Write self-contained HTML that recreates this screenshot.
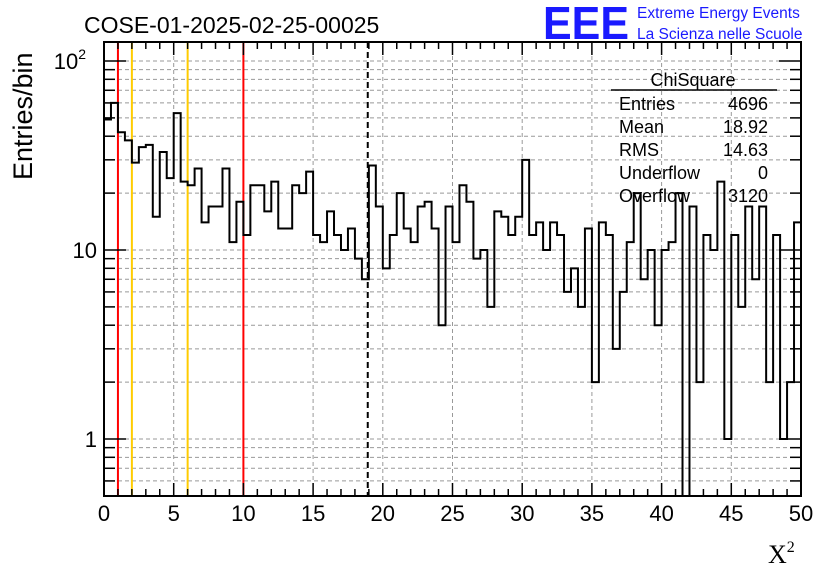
<!DOCTYPE html>
<html><head><meta charset="utf-8">
<style>
html,body{margin:0;padding:0;background:#fff;}
svg{display:block;font-family:"Liberation Sans",sans-serif;}
</style></head>
<body>
<svg id="chart" width="836" height="572" viewBox="0 0 836 572" xmlns="http://www.w3.org/2000/svg">
<rect width="836" height="572" fill="#fff"/>
<text x="84" y="33" font-size="23">COSE-01-2025-02-25-00025</text>
<text x="543" y="39" font-size="46" font-weight="bold" fill="#1a1aff" textLength="86" lengthAdjust="spacingAndGlyphs">EEE</text>
<text x="637" y="18" font-size="15.5" fill="#1a1aff">Extreme Energy Events</text>
<text x="637" y="39" font-size="15.5" fill="#1a1aff">La Scienza nelle Scuole</text>
<text transform="translate(32,180) rotate(-90)" font-size="27">Entries/bin</text>
<text x="768" y="563" font-size="26" font-family="'Liberation Serif',serif">X<tspan font-size="16" dy="-11">2</tspan></text>
<g id="grid"></g>
<g id="marks"></g>
<g id="axes"></g>
<g>
<text x="693" y="86" font-size="18" text-anchor="middle">ChiSquare</text>
<line x1="611" y1="90" x2="777" y2="90" stroke="#000" stroke-width="1.5"/>
<text x="619" y="110" font-size="18">Entries</text><text x="768" y="110" font-size="18" text-anchor="end">4696</text>
<text x="619" y="133" font-size="18">Mean</text><text x="768" y="133" font-size="18" text-anchor="end">18.92</text>
<text x="619" y="156" font-size="18">RMS</text><text x="768" y="156" font-size="18" text-anchor="end">14.63</text>
<text x="619" y="179" font-size="18">Underflow</text><text x="768" y="179" font-size="18" text-anchor="end">0</text>
<text x="619" y="202" font-size="18">Overflow</text><text x="768" y="202" font-size="18" text-anchor="end">3120</text>
</g>
</svg>
<script>
const counts = [49,60,42,38,29,35,36,15,33,24,53,23,22,27,14,17,17,27,11,18,12,22,22,16,23,13,13,22,20,26,12,11,16,12,10,13,9,7,28,17,8,12,20,13,11,17,18,13,4,17,11,22,18,9,10,5,16,15,12,15,30,12,14,10,14,12,6,8,5,13,2,14,12,3,6,11,20,7,10,4,10,11,20,0,17,2,12,10,23,1,12,5,17,7,17,2,12,1,2,14];
const binMin = 0, binWidth = 0.5;
const xTicks = [0,5,10,15,20,25,30,35,40,45,50];
const cutLinesRed = [1,10];
const cutLinesOrange = [2,6];
const meanValue = 18.92;

const NS="http://www.w3.org/2000/svg";
const X0=104,X1=801,Y0=42,Y1=496;
const xs=v=>X0+(v-0)/(50-0)*(X1-X0);
const yDec=189, y1pos=439;
const ys=v=>v<=0?Y1:Math.max(Y0,Math.min(Y1,y1pos-Math.log10(v)*yDec));
function mk(tag,attrs,parent){const e=document.createElementNS(NS,tag);for(const k in attrs)e.setAttribute(k,attrs[k]);parent.appendChild(e);return e;}
const grid=document.getElementById('grid'),marks=document.getElementById('marks'),axes=document.getElementById('axes');
const yGrid=[];for(const d of [0.1,1,10,100]){for(let m=1;m<=9;m++){const v=m*d;const y=ys(v);if(v>0.5&&y>Y0&&y<Y1)yGrid.push(v);}}
for(const v of yGrid){const l=mk('line',{x1:X0,x2:X1,y1:ys(v),y2:ys(v),stroke:'#999','stroke-dasharray':'4,3','stroke-width':1},grid);

}
for(const t of xTicks){if(t===0||t===50)continue;const l=mk('line',{x1:xs(t),x2:xs(t),y1:Y0,y2:Y1,stroke:'#999','stroke-dasharray':'4,3','stroke-width':1},grid);

}
for(const c of cutLinesRed){const l=mk('line',{x1:xs(c),x2:xs(c),y1:Y0,y2:Y1,stroke:'#f00','stroke-width':2},marks);

}
for(const c of cutLinesOrange){const l=mk('line',{x1:xs(c),x2:xs(c),y1:Y0,y2:Y1,stroke:'#fc0','stroke-width':2},marks);

}
let d='M'+xs(binMin)+','+ys(counts[0]);
counts.forEach((c,i)=>{const a=xs(binMin+i*binWidth),b=xs(binMin+(i+1)*binWidth);d+=' L'+a+','+ys(c)+' L'+b+','+ys(c);});
const h=mk('path',{d:d,fill:'none',stroke:'#000','stroke-width':2},marks);


const ml=mk('line',{x1:xs(meanValue),x2:xs(meanValue),y1:Y0,y2:Y1,stroke:'#000','stroke-width':2,'stroke-dasharray':'6,4'},marks);


const fr=mk('rect',{x:X0,y:Y0,width:X1-X0,height:Y1-Y0,fill:'none',stroke:'#000','stroke-width':2},axes);


for(let v=0;v<=50;v++){const major=v%5===0,len=major?13:7;
mk('line',{x1:xs(v),x2:xs(v),y1:Y1,y2:Y1-len,stroke:'#000','stroke-width':1.5},axes);
mk('line',{x1:xs(v),x2:xs(v),y1:Y0,y2:Y0+len,stroke:'#000','stroke-width':1.5},axes);}
for(const t of xTicks){const tx=mk('text',{x:xs(t),y:521,'font-size':22,'text-anchor':'middle'},axes);tx.textContent=t;

}
for(const v of yGrid){const major=[1,10,100].includes(v),len=major?22:11;
mk('line',{x1:X0,x2:X0+len,y1:ys(v),y2:ys(v),stroke:'#000','stroke-width':1.5},axes);
mk('line',{x1:X1,x2:X1-len,y1:ys(v),y2:ys(v),stroke:'#000','stroke-width':1.5},axes);}
const yl=[[1,'1'],[10,'10'],[100,'10']];
for(const [v,s] of yl){const tx=mk('text',{x:v===100?86:97,y:ys(v)+8,'font-size':22,'text-anchor':'end'},axes);tx.textContent=s;


if(v===100){const sp=mk('tspan',{'font-size':14,dy:-10},tx);sp.textContent='2';}}
</script>
</body></html>
